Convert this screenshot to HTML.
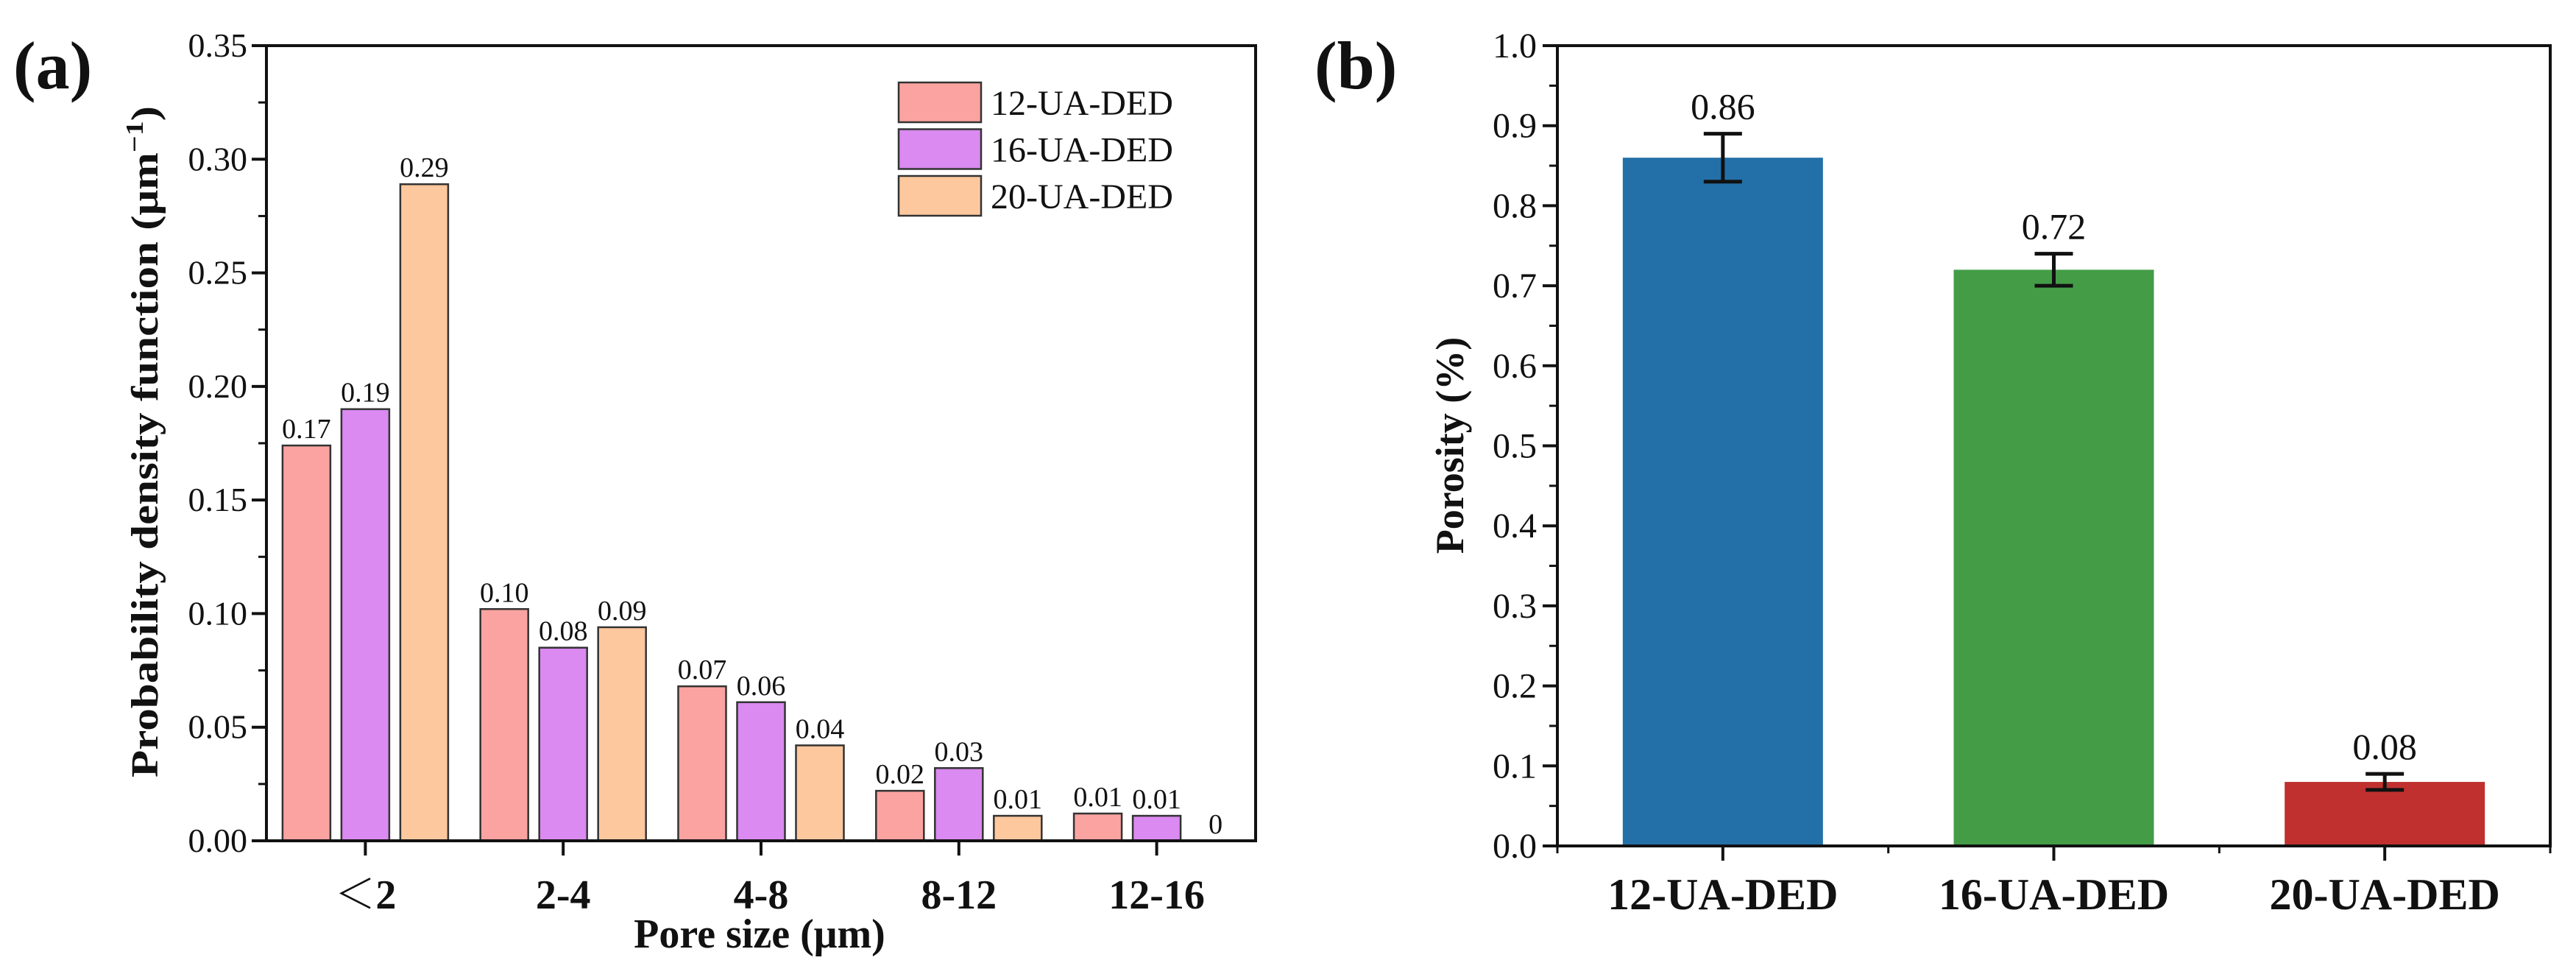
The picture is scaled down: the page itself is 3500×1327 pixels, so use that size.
<!DOCTYPE html>
<html><head><meta charset="utf-8"><style>
html,body{margin:0;padding:0;background:#fff;}
svg{display:block;font-family:"Liberation Serif",serif;}
</style></head><body>
<svg id="s" width="3500" height="1327" viewBox="0 0 3500 1327" xmlns="http://www.w3.org/2000/svg">
<rect width="3500" height="1327" fill="#fff"/>
<g id="pa"></g>
<g id="pb"></g>
</svg>
<script>
// Panel (a) data
const catsA = ["＜2","2-4","4-8","8-12","12-16"];
const s12 = [0.174,0.102,0.068,0.022,0.012];
const s16 = [0.190,0.085,0.061,0.032,0.011];
const s20 = [0.289,0.094,0.042,0.011,0.0];
const lab12 = ["0.17","0.10","0.07","0.02","0.01"];
const lab16 = ["0.19","0.08","0.06","0.03","0.01"];
const lab20 = ["0.29","0.09","0.04","0.01","0"];
const seriesNames = ["12-UA-DED","16-UA-DED","20-UA-DED"];
const yTicksA = [0,0.05,0.10,0.15,0.20,0.25,0.30,0.35];
// Panel (b) data
const catsB = ["12-UA-DED","16-UA-DED","20-UA-DED"];
const porosity = [0.86,0.72,0.08];
const porErr = [0.03,0.02,0.01];
const porLab = ["0.86","0.72","0.08"];
const yTicksB = [0,0.1,0.2,0.3,0.4,0.5,0.6,0.7,0.8,0.9,1.0];

const NS="http://www.w3.org/2000/svg";
function mk(parent,tag,attrs,text){const e=document.createElementNS(NS,tag);for(const k in attrs)e.setAttribute(k,attrs[k]);if(text!==undefined)e.textContent=text;parent.appendChild(e);return e;}

// ---------- Panel A ----------
(function(){
const g=document.getElementById('pa');
const L=362,R=1706,T=62,B=1142,ymax=0.35;
const y=v=>B-(v/ymax)*(B-T);
const band=(R-L)/catsA.length;
const cx=i=>L+band*(i+0.5);
const colors=["#FBA3A0","#DA8AF0","#FDC89E"];
const data=[s12,s16,s20], labs=[lab12,lab16,lab20];
const bw=65, pitch=80;
data.forEach((arr,si)=>{
  arr.forEach((v,i)=>{
    const x=cx(i)+(si-1)*pitch-bw/2;
    if(v>0){
      const r=mk(g,'rect',{x:x,y:y(v),width:bw,height:B-y(v),fill:colors[si],stroke:"#333",'stroke-width':2.5});
      
      
    }
    const t=mk(g,'text',{x:x+bw/2,y:y(v)-10,'text-anchor':'middle','font-size':38,fill:'#111'},labs[si][i]);
    
    
  });
});
const f=mk(g,'rect',{x:L,y:T,width:R-L,height:B-T,fill:'none',stroke:'#111','stroke-width':4});

yTicksA.forEach((v,i)=>{
  mk(g,'line',{x1:L-20,x2:L,y1:y(v),y2:y(v),stroke:'#111','stroke-width':4});
  if(i<yTicksA.length-1){const m=(v+yTicksA[i+1])/2;mk(g,'line',{x1:L-11,x2:L,y1:y(m),y2:y(m),stroke:'#111','stroke-width':3});}
  const t=mk(g,'text',{x:L-26,y:y(v)+15,'text-anchor':'end','font-size':46,fill:'#111'},v.toFixed(2));
  
});
catsA.forEach((c,i)=>{
  mk(g,'line',{x1:cx(i),x2:cx(i),y1:B,y2:B+20,stroke:'#111','stroke-width':4});
  const t=mk(g,'text',{x:cx(i),y:B+92,'text-anchor':'middle','font-size':56,'font-weight':'bold',fill:'#111','font-family':'"Liberation Serif","Noto Serif CJK SC",serif'},c);
  
});
const xt=mk(g,'text',{x:1032,y:1287,'text-anchor':'middle','font-size':56,'font-weight':'bold',fill:'#111'},"Pore size (μm)");

const yt=mk(g,'text',{x:0,y:0,transform:'translate(214,600) rotate(-90)','text-anchor':'middle','font-size':52,'font-weight':'bold',fill:'#111',textLength:912,lengthAdjust:'spacingAndGlyphs'});
yt.innerHTML='Probability density function (μm<tspan dy="-20" font-size="34">−1</tspan><tspan dy="20">)</tspan>';

seriesNames.forEach((n,i)=>{
  const yy=112+i*63.5;
  const r=mk(g,'rect',{x:1221,y:yy,width:112,height:54,fill:colors[i],stroke:'#333','stroke-width':2.5});
  
  const t=mk(g,'text',{x:1346,y:yy+44,'font-size':48,fill:'#111'},n);
  
});
const pl=mk(g,'text',{x:18,y:120,'font-size':92,'font-weight':'bold',fill:'#111'},"(a)");

})();

// ---------- Panel B ----------
(function(){
const g=document.getElementById('pb');
const L=2116,R=3465,T=62,B=1149,ymax=1.0;
const y=v=>B-(v/ymax)*(B-T);
const band=(R-L)/catsB.length;
const cx=i=>L+band*(i+0.5);
const colors=["#2370A8","#449C47","#C0302F"];
const bw=272;
porosity.forEach((v,i)=>{
  const r=mk(g,'rect',{x:cx(i)-bw/2,y:y(v),width:bw,height:B-y(v),fill:colors[i]});
  
  const e=porErr[i];
  const eg=mk(g,'g',{stroke:'#111','stroke-width':5});
  
  mk(eg,'line',{x1:cx(i),x2:cx(i),y1:y(v+e),y2:y(v-e)});
  mk(eg,'line',{x1:cx(i)-26,x2:cx(i)+26,y1:y(v+e),y2:y(v+e)});
  mk(eg,'line',{x1:cx(i)-26,x2:cx(i)+26,y1:y(v-e),y2:y(v-e)});
  const t=mk(g,'text',{x:cx(i),y:y(v+e)-20,'text-anchor':'middle','font-size':50,fill:'#111'},porLab[i]);
  
});
const f=mk(g,'rect',{x:L,y:T,width:R-L,height:B-T,fill:'none',stroke:'#111','stroke-width':4});

yTicksB.forEach((v,i)=>{
  mk(g,'line',{x1:L-20,x2:L,y1:y(v),y2:y(v),stroke:'#111','stroke-width':4});
  if(i<yTicksB.length-1){const m=(v+yTicksB[i+1])/2;mk(g,'line',{x1:L-11,x2:L,y1:y(m),y2:y(m),stroke:'#111','stroke-width':3});}
  const t=mk(g,'text',{x:L-28,y:y(v)+16,'text-anchor':'end','font-size':48,fill:'#111'},v.toFixed(1));
  
});
for(let i=0;i<=catsB.length;i++){const xx=L+band*i;mk(g,'line',{x1:xx,x2:xx,y1:B,y2:B+10,stroke:'#111','stroke-width':3});}
catsB.forEach((c,i)=>{
  mk(g,'line',{x1:cx(i),x2:cx(i),y1:B,y2:B+20,stroke:'#111','stroke-width':4});
  const t=mk(g,'text',{x:cx(i),y:1235,'text-anchor':'middle','font-size':60,'font-weight':'bold',fill:'#111'},c);
  
});
const yt=mk(g,'text',{x:0,y:0,transform:'translate(1988,605) rotate(-90)','text-anchor':'middle','font-size':54,'font-weight':'bold',fill:'#111'},"Porosity (%)");

const pl=mk(g,'text',{x:1786,y:120,'font-size':92,'font-weight':'bold',fill:'#111'},"(b)");

})();
</script>
</body></html>
